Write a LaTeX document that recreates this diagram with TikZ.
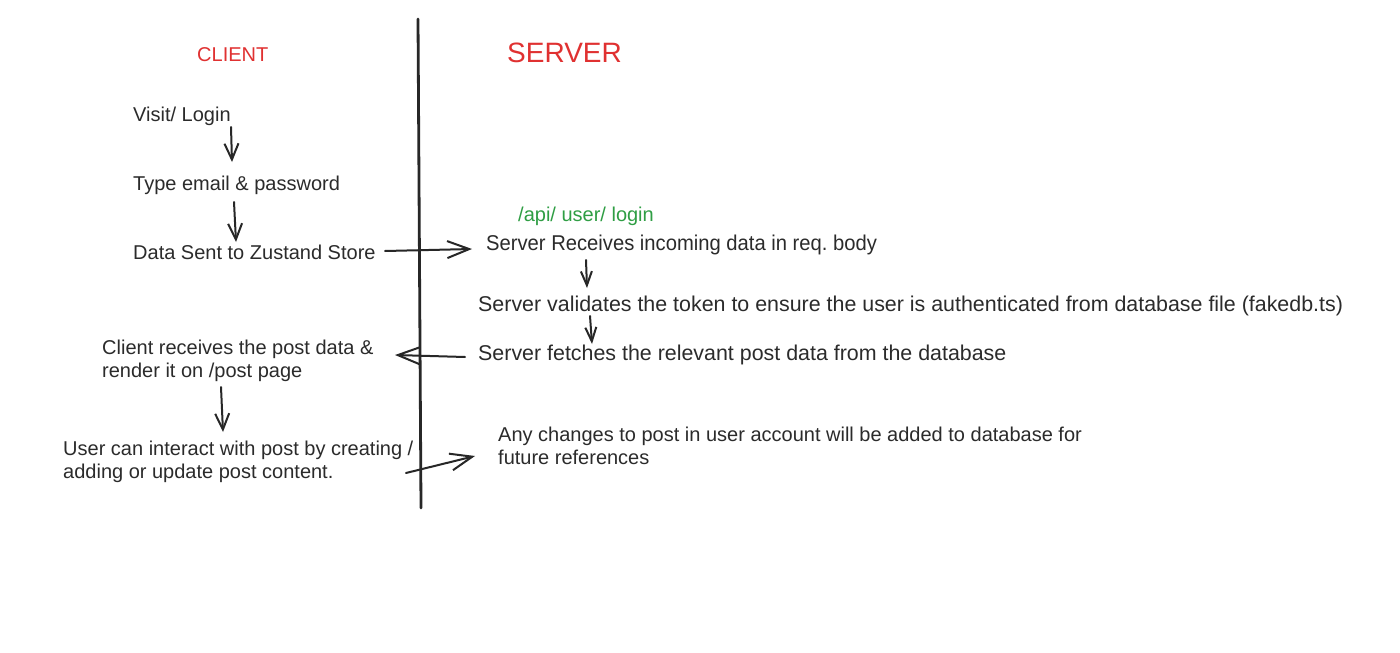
\documentclass[tikz,border=0pt]{standalone}
\usepackage{fontspec}
\setmainfont{Liberation Sans}
\usetikzlibrary{arrows.meta}
\definecolor{ink}{HTML}{2B2B2B}
\definecolor{hred}{HTML}{E03131}
\definecolor{hgreen}{HTML}{2F9E44}
\tikzset{
  txt/.style={anchor=base west, inner sep=0pt, text=ink, font=\fontsize{20}{23}\selectfont, align=left},
  stxt/.style={txt, font=\fontsize{21.4}{23}\selectfont},
  flow/.style={draw=ink!90!black, line width=2pt, -{Straight Barb[length=16pt,width=14pt,line width=2pt]}, line cap=round},
  sflow/.style={flow, -{Straight Barb[length=14pt,width=11pt,line width=2pt]}},
  hflow/.style={flow, -{Straight Barb[length=22pt,width=17pt,line width=2pt]}},
  divider/.style={draw=ink!90!black, line width=2.8pt, line cap=round}
}
\begin{document}
\begin{tikzpicture}[x=1pt,y=-1pt]
\useasboundingbox (0,0) rectangle (1400,653);
\fill[white] (0,0) rectangle (1400,653);
% divider
\coordinate (top) at (418,19);
\coordinate (bot) at (421,508);
\draw[divider] (top) -- (bot);
% headings
\node[txt, text=hred] (client) at (197,61) {CLIENT};
\node[txt, text=hred, font=\fontsize{28}{30}\selectfont] (server) at (507,62) {SERVER};
% client side
\node[txt] (visit) at (133,121) {Visit/ Login};
\node[txt] (type) at (133,190) {Type email \& password};
\node[txt] (data) at (133,259) {Data Sent to Zustand Store};
\node[txt] (recv) at (102,377) {Client receives the post data \&\\render it on /post page};
\node[txt] (user) at (63,478) {User can interact with post by creating /\\adding or update post content.};
% server side
\node[txt, text=hgreen] (api) at (518,221) {/api/ user/ login};
\node[stxt] (sr) at (486,250) {\scalebox{0.944}[1]{Server Receives incoming data in req.\ body}};
\node[stxt] (sv) at (478,311) {Server validates the token to ensure the user is authenticated from database file (fakedb.ts)};
\node[stxt] (sf) at (478,360) {Server fetches the relevant post data from the database};
\node[txt] (any) at (498,464) {Any changes to post in user account will be added to database for\\future references};
% connector end points
\coordinate (a1s) at (231,127); \coordinate (a1e) at (232,162);
\coordinate (a2s) at (234,202); \coordinate (a2e) at (236,242);
\coordinate (a3s) at (385,251); \coordinate (a3e) at (472,249);
\coordinate (a4s) at (586,260); \coordinate (a4e) at (587,288);
\coordinate (a5s) at (590,316); \coordinate (a5e) at (592,344);
\coordinate (a6s) at (465,357); \coordinate (a6e) at (395,355);
\coordinate (a7s) at (221,387); \coordinate (a7e) at (223,432);
\coordinate (a8s) at (406,473); \coordinate (a8e) at (475,456);
\draw[flow] (a1s) -- (a1e);
\draw[flow] (a2s) -- (a2e);
\draw[hflow] (a3s) -- (a3e);
\draw[sflow] (a4s) -- (a4e);
\draw[sflow] (a5s) -- (a5e);
\draw[hflow] (a6s) -- (a6e);
\draw[flow] (a7s) -- (a7e);
\draw[hflow] (a8s) -- (a8e);
\end{tikzpicture}
\end{document}
